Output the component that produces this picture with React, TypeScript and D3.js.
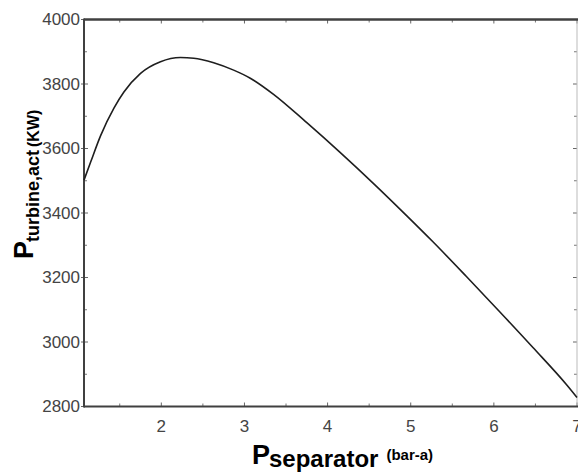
import React from "react";
import * as d3 from "d3";

const pressure = [1.07, 1.15, 1.27, 1.43, 1.55, 1.75, 1.99, 2.23, 2.39, 2.63, 2.87, 3.07, 3.35, 3.75, 4.15, 4.55, 4.95, 5.27, 5.67, 6.07, 6.47, 6.88, 7.0];
const power = [3502, 3558, 3640, 3725, 3775, 3833, 3869, 3882, 3880, 3866, 3843, 3818, 3768, 3680, 3588, 3492, 3392, 3310, 3203, 3094, 2983, 2866, 2828];
const xTicks = [2, 3, 4, 5, 6, 7];
const xMinor = [1.5, 2.5, 3.5, 4.5, 5.5, 6.5];
const yTicks = [2800, 3000, 3200, 3400, 3600, 3800, 4000];
const yMinor = [2900, 3100, 3300, 3500, 3700, 3900];

const W = 578, H = 474;
const L = 84, R = 577, T = 19.5, B = 406.5;

export default function App() {
  const x = d3.scaleLinear().domain([1.07, 7]).range([L, R]);
  const y = d3.scaleLinear().domain([2800, 4000]).range([B, T]);
  const pts = pressure.map((p, i) => [p, power[i]] as [number, number]);
  const line = d3.line<[number, number]>().x(d => x(d[0])).y(d => y(d[1])).curve(d3.curveMonotoneX);
  const axis = "#404040";
  const font = "'Liberation Sans', Arial, sans-serif";
  return (
    <svg width={W} height={H} style={{ position: "absolute", left: 0, top: 0, background: "#fff" }}>
      <rect x={0} y={0} width={W} height={H} fill="#fff" />
      {yMinor.map(v => (
        <g key={"ym" + v}>
          <line x1={L} x2={L + 3} y1={y(v)} y2={y(v)} stroke="#777" />
          <line x1={R} x2={R - 3} y1={y(v)} y2={y(v)} stroke="#777" />
        </g>
      ))}
      {yTicks.map(v => (
        <g key={"yt" + v}>
          <line x1={L - 3} x2={L + 4} y1={y(v)} y2={y(v)} stroke="#666" />
          <line x1={R} x2={R - 4} y1={y(v)} y2={y(v)} stroke="#666" />
          <text x={L - 4} y={y(v)} dy="0.35em" textAnchor="end" fontFamily={font} fontSize={17} fill="#444">{v}</text>
        </g>
      ))}
      {xMinor.map(v => (
        <g key={"xm" + v}>
          <line x1={x(v)} x2={x(v)} y1={B} y2={B - 3} stroke="#777" />
          <line x1={x(v)} x2={x(v)} y1={T} y2={T + 3} stroke="#777" />
        </g>
      ))}
      {xTicks.map(v => (
        <g key={"xt" + v}>
          <line x1={x(v)} x2={x(v)} y1={B} y2={B - 4} stroke="#666" />
          <line x1={x(v)} x2={x(v)} y1={T} y2={T + 4} stroke="#666" />
          <text x={x(v)} y={432} textAnchor="middle" fontFamily={font} fontSize={17} fill="#444">{v}</text>
        </g>
      ))}
      <line x1={R} x2={R} y1={T} y2={B} stroke="#bbb" strokeWidth={1} />
      <line x1={L} x2={W} y1={T} y2={T} stroke={axis} strokeWidth={2.5} />
      <line x1={L} x2={W} y1={B} y2={B} stroke={axis} strokeWidth={2} />
      <line x1={L} x2={L} y1={T - 1} y2={B + 1} stroke={axis} strokeWidth={2} />
      <path d={line(pts) || ""} fill="none" stroke="#1e1e1e" strokeWidth={1.6} />
      <text x={252} y={464} fontFamily={font} fontWeight="bold" fill="#000">
        <tspan fontSize={27}>P</tspan>
        <tspan fontSize={24} dx={-1} dy={3}>separator</tspan>
        <tspan fontSize={15} dx={8} dy={-7}>(bar-a)</tspan>
      </text>
      <text transform="translate(33,259) rotate(-90)" fontFamily={font} fontWeight="bold" fill="#000">
        <tspan fontSize={27}>P</tspan>
        <tspan fontSize={18} dx={-1} dy={6}>turbine,act</tspan>
        <tspan fontSize={16} dx={3} dy={0}>(KW)</tspan>
      </text>
    </svg>
  );
}
